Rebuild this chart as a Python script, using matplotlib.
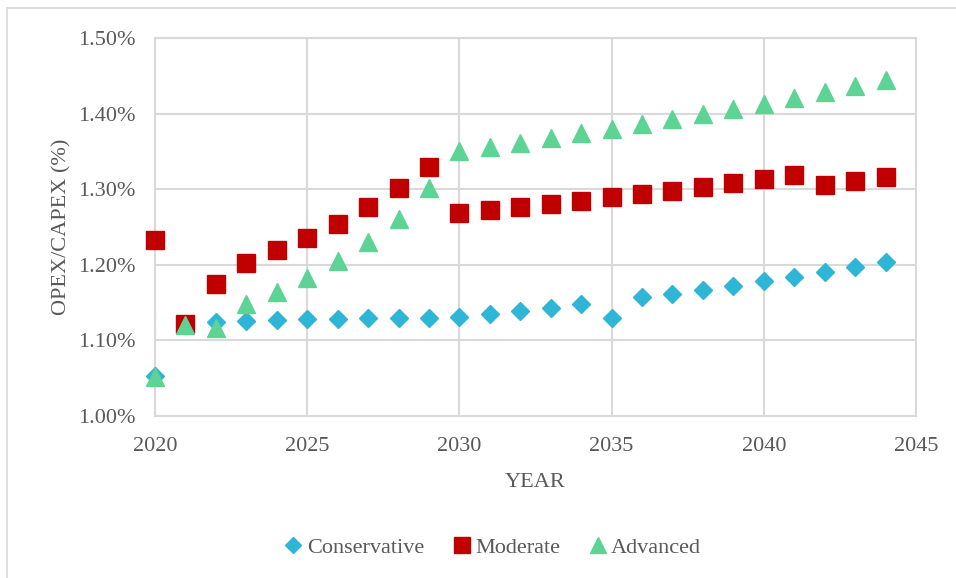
import matplotlib
matplotlib.use("Agg")
import matplotlib.pyplot as plt
from matplotlib.lines import Line2D

years = list(range(2020, 2045))

conservative = [1.053, 1.122, 1.124, 1.126, 1.127, 1.128, 1.128, 1.129, 1.130, 1.130,
                1.131, 1.135, 1.139, 1.143, 1.148, 1.130, 1.157, 1.162, 1.167, 1.172,
                1.178, 1.184, 1.190, 1.197, 1.204]
moderate = [1.233, 1.122, 1.175, 1.203, 1.219, 1.235, 1.254, 1.276, 1.301, 1.329,
            1.268, 1.272, 1.276, 1.280, 1.284, 1.290, 1.294, 1.298, 1.303, 1.308,
            1.313, 1.319, 1.306, 1.311, 1.316]
advanced = [1.052, 1.121, 1.116, 1.148, 1.164, 1.183, 1.205, 1.230, 1.261, 1.301,
            1.351, 1.356, 1.361, 1.368, 1.374, 1.380, 1.386, 1.393, 1.400, 1.406,
            1.413, 1.420, 1.428, 1.436, 1.444]

series_names = ["Conservative", "Moderate", "Advanced"]
x_ticks = [2020, 2025, 2030, 2035, 2040, 2045]
y_ticks = [1.00, 1.10, 1.20, 1.30, 1.40, 1.50]

C_BLUE = "#2fb6d7"
C_RED = "#c00000"
C_GREEN = "#5dd394"
GRID = "#d9d9d9"
TXT = "#595959"

plt.rcParams["font.family"] = ["Liberation Serif", "DejaVu Serif"]

W, H = 956, 578
fig = plt.figure(figsize=(W / 100, H / 100), dpi=100)

# outer chart frame (left and top edges)
fig.add_artist(Line2D([7 / W, 7 / W], [0, 1 - 8 / H], color=GRID, lw=1.2))
fig.add_artist(Line2D([7 / W, 1], [1 - 8 / H, 1 - 8 / H], color=GRID, lw=1.2))

left, right, top, bottom = 155, 916, 38, 416
ax = fig.add_axes([left / W, 1 - bottom / H, (right - left) / W, (bottom - top) / H])

ax.plot(years, conservative, linestyle="none", marker="D", ms=9, color=C_BLUE,
        mec=C_BLUE, label=series_names[0], zorder=3, clip_on=False)
ax.plot(years, moderate, linestyle="none", marker="s", ms=13, color=C_RED,
        mec=C_RED, label=series_names[1], zorder=3, clip_on=False)
ax.plot(years, advanced, linestyle="none", marker="^", ms=12.5, color=C_GREEN,
        mec=C_GREEN, label=series_names[2], zorder=4, clip_on=False)

ax.set_xlim(2020, 2045)
ax.set_ylim(1.00, 1.50)
ax.set_xticks(x_ticks)
ax.set_yticks(y_ticks)
ax.set_yticklabels([f"{v:.2f}%" for v in y_ticks])
ax.grid(True, color=GRID, lw=1.5)
ax.set_axisbelow(True)
for s in ax.spines.values():
    s.set_color(GRID)
    s.set_linewidth(1.5)
ax.tick_params(length=0, labelsize=16, colors=TXT, pad=14)
ax.tick_params(axis="x", pad=15)

ax.set_xlabel("YEAR", fontsize=16, color=TXT, labelpad=12)
ax.set_ylabel("OPEX/CAPEX (%)", fontsize=16, color=TXT, labelpad=5)

handles = [
    Line2D([], [], linestyle="none", marker="D", ms=8, color=C_BLUE),
    Line2D([], [], linestyle="none", marker="s", ms=11, color=C_RED),
    Line2D([], [], linestyle="none", marker="^", ms=11, color=C_GREEN),
]
leg = fig.legend(handles, series_names, loc="center", bbox_to_anchor=(494 / W, 1 - 548 / H),
                 ncol=3, frameon=False, fontsize=16, handlelength=0.6,
                 handletextpad=0.3, columnspacing=1.4)
for t in leg.get_texts():
    t.set_color(TXT)

fig.savefig("out.png", dpi=100)
